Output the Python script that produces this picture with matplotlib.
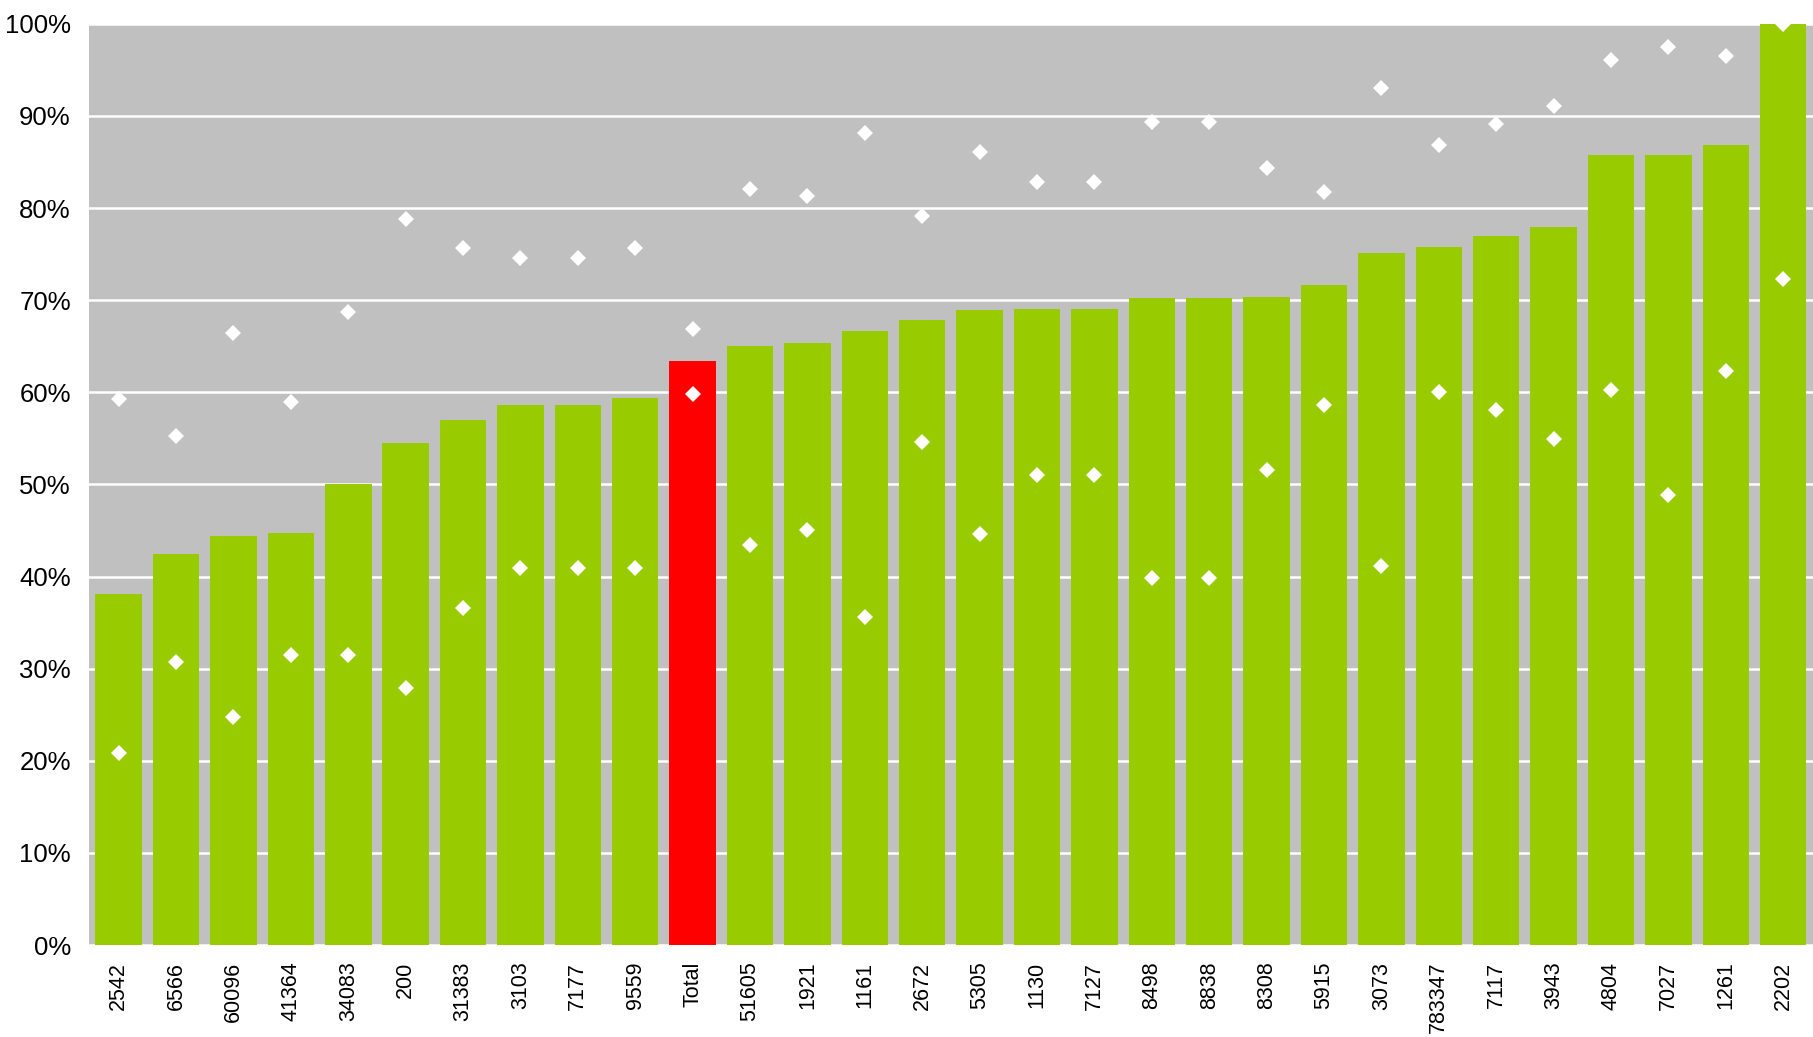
import numpy as np
import matplotlib.pyplot as plt
from matplotlib.ticker import PercentFormatter

plt.rcParams['font.family'] = ['Liberation Sans', 'DejaVu Sans']

categories = ['2542', '6566', '60096', '41364', '34083', '200', '31383', '3103',
              '7177', '9559', 'Total', '51605', '1921', '1161', '2672', '5305',
              '1130', '7127', '8498', '8838', '8308', '5915', '3073', '783347',
              '7117', '3943', '4804', '7027', '1261', '2202']

bar_values = [38.1, 42.4, 44.4, 44.7, 50.0, 54.5, 57.0, 58.6, 58.6, 59.4,
              63.4, 65.0, 65.3, 66.7, 67.9, 68.9, 69.0, 69.0, 70.2, 70.2,
              70.4, 71.6, 75.1, 75.8, 77.0, 77.9, 85.8, 85.8, 86.8, 100.0]

upper_values = [59.3, 55.3, 66.4, 58.9, 68.7, 78.8, 75.7, 74.6, 74.6, 75.7,
                66.9, 82.1, 81.3, 88.1, 79.1, 86.1, 82.8, 82.8, 89.3, 89.3,
                84.3, 81.7, 93.0, 86.8, 89.1, 91.1, 96.1, 97.5, 96.5, 100.0]

lower_values = [20.8, 30.7, 24.7, 31.5, 31.5, 27.9, 36.6, 40.9, 40.9, 40.9,
                59.8, 43.4, 45.0, 35.6, 54.6, 44.6, 51.0, 51.0, 39.8, 39.8,
                51.6, 58.6, 41.1, 60.0, 58.1, 54.9, 60.2, 48.9, 62.3, 72.3]

x = np.arange(len(categories))
colors = ['#FF0000' if c == 'Total' else '#99CC00' for c in categories]

fig = plt.figure(figsize=(18.13, 10.37), dpi=100)
ax = fig.add_axes([0.049, 0.0887, 0.951, 0.8883])
ax.set_facecolor('#C0C0C0')

ax.bar(x, bar_values, width=0.81, color=colors, zorder=2)
ax.plot(x, upper_values, linestyle='none', marker='D', markersize=8,
        color='white', markeredgewidth=0, zorder=3)
ax.plot(x, lower_values, linestyle='none', marker='D', markersize=8,
        color='white', markeredgewidth=0, zorder=3)

ax.set_xlim(-0.52, len(categories) - 0.48)
ax.set_ylim(0, 100)
ax.set_yticks(np.arange(0, 101, 10))
ax.yaxis.set_major_formatter(PercentFormatter(decimals=0))
ax.set_xticks(x)
ax.set_xticklabels(categories, rotation=90)
ax.tick_params(axis='y', length=0, pad=13, labelsize=18.5)
ax.tick_params(axis='x', length=0, pad=12, labelsize=15.5)
ax.grid(axis='y', color='white', linewidth=1.8, zorder=1)
ax.set_axisbelow(True)
for s in ax.spines.values():
    s.set_visible(False)

plt.savefig('out.png', dpi=100)
